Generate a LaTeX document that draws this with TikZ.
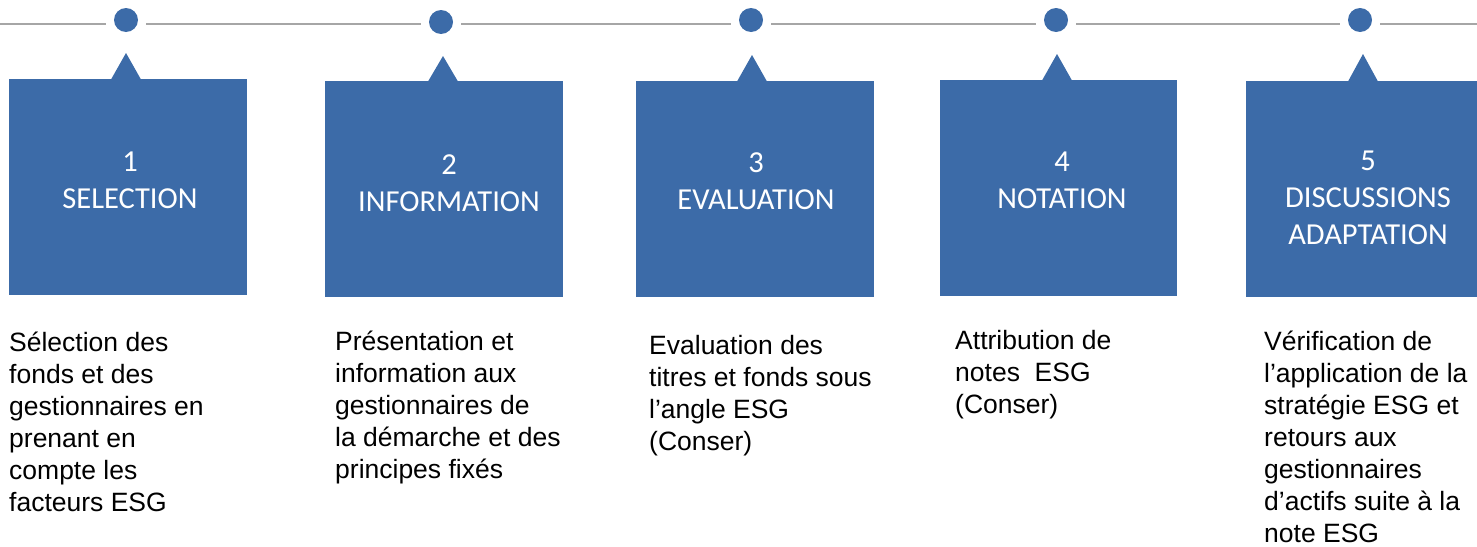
\documentclass[tikz,border=0pt]{standalone}
\usepackage{fontspec}
\setmainfont{Liberation Sans}
\newfontfamily\boxfont{Carlito}
\definecolor{stepblue}{RGB}{60,107,168}
\definecolor{linegray}{RGB}{166,166,166}
\begin{document}
\begin{tikzpicture}[x=1pt,y=-1pt,
  timeline/.style={draw=linegray,line width=2pt},
  dotnode/.style={circle,fill=stepblue,minimum size=24pt,inner sep=0pt},
  stepbox/.style={fill=stepblue,draw=none},
  boxlabel/.style={text=white,font=\boxfont\fontsize{30.5}{37}\selectfont,align=center,anchor=base,inner sep=0pt},
  desc/.style={text=black,font=\fontsize{26.5}{32}\selectfont,align=left,anchor=north west,inner sep=0pt}]
\useasboundingbox (0,0) rectangle (1477,546);
% timeline
\coordinate (L0) at (0,24);
\coordinate (L6) at (1477,24);
\node[dotnode] (d1) at (126,20) {};
\node[dotnode] (d2) at (441,22) {};
\node[dotnode] (d3) at (751,20) {};
\node[dotnode] (d4) at (1056,20) {};
\node[dotnode] (d5) at (1360,20) {};
\draw[timeline] (L0) -- (106,24);
\draw[timeline] (146,24) -- (421,24);
\draw[timeline] (461,24) -- (731,24);
\draw[timeline] (771,24) -- (1036,24);
\draw[timeline] (1076,24) -- (1340,24);
\draw[timeline] (1380,24) -- (L6);
% boxes with triangles
\fill[stepblue] (9,79) rectangle (247,295);
\fill[stepblue] (111,79.5) -- (126,53) -- (141,79.5) -- cycle;
\fill[stepblue] (325,81) rectangle (563,297);
\fill[stepblue] (428,81.5) -- (443,56) -- (458,81.5) -- cycle;
\fill[stepblue] (636,81) rectangle (874,297);
\fill[stepblue] (737,81.5) -- (752,55) -- (767,81.5) -- cycle;
\fill[stepblue] (940,80) rectangle (1177,296);
\fill[stepblue] (1042,80.5) -- (1057,54) -- (1072,80.5) -- cycle;
\fill[stepblue] (1246,81) rectangle (1484,297);
\fill[stepblue] (1348,81.5) -- (1363,54) -- (1378,81.5) -- cycle;
% box labels (anchor = baseline of the last line)
\node[boxlabel] (b1) at (130,208) {1\\SELECTION};
\node[boxlabel] (b2) at (449,211) {2\\INFORMATION};
\node[boxlabel] (b3) at (756,209) {3\\EVALUATION};
\node[boxlabel] (b4) at (1062,208) {4\\NOTATION};
\node[boxlabel] (b5) at (1368,244) {5\\DISCUSSIONS\\ADAPTATION};
% descriptions
\node[desc] (t1) at (9,332) {Sélection des\\fonds et des\\gestionnaires en\\prenant en\\compte les\\facteurs ESG};
\node[desc] (t2) at (335,331) {Présentation et\\information aux\\gestionnaires de\\la démarche et des\\principes fixés};
\node[desc] (t3) at (649,335) {Evaluation des\\titres et fonds sous\\l’angle ESG\\(Conser)};
\node[desc] (t4) at (955,330) {Attribution de\\notes~ ESG\\(Conser)};
\node[desc] (t5) at (1264,331) {Vérification de\\l’application de la\\stratégie ESG et\\retours aux\\gestionnaires\\d’actifs suite à la\\note ESG};
\end{tikzpicture}
\end{document}
